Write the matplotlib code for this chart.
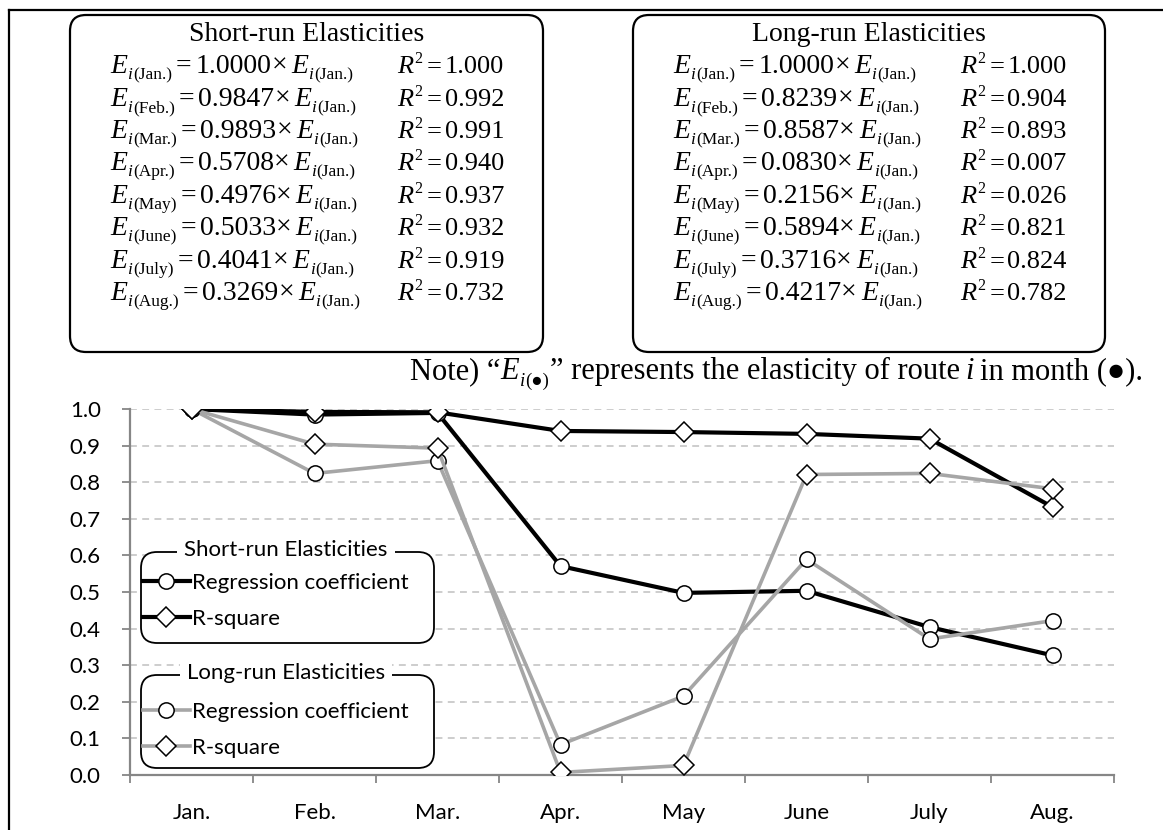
import numpy as np
import matplotlib.pyplot as plt
from matplotlib.patches import FancyBboxPatch
from matplotlib.lines import Line2D

# monthly elasticity regressions (relative to January)
months = ['Jan.', 'Feb.', 'Mar.', 'Apr.', 'May', 'June', 'July', 'Aug.']
short_coef = [1.0000, 0.9847, 0.9893, 0.5708, 0.4976, 0.5033, 0.4041, 0.3269]
short_r2 = [1.000, 0.992, 0.991, 0.940, 0.937, 0.932, 0.919, 0.732]
long_coef = [1.0000, 0.8239, 0.8587, 0.0830, 0.2156, 0.5894, 0.3716, 0.4217]
long_r2 = [1.000, 0.904, 0.893, 0.007, 0.026, 0.821, 0.824, 0.782]
yticks = [0.0, 0.1, 0.2, 0.3, 0.4, 0.5, 0.6, 0.7, 0.8, 0.9, 1.0]

W, H = 1163, 830
fig = plt.figure(figsize=(W / 100, H / 100), dpi=100)
inch = fig.dpi_scale_trans
renderer = fig.canvas.get_renderer()

def px(x, y):
    # pixel position (from top-left) -> inches
    return x / 100, (H - y) / 100

serif = ['Liberation Serif', 'DejaVu Sans']
calibri = 'Lato'

def rich(pieces, x, y, ha='left'):
    # pieces: (text, size, style, dy, gap) -- little run of text pieces on one baseline
    objs = []
    cur = 0
    for s, size, style, dy, gap in pieces:
        cur += gap
        t = fig.text(0, 0, s, transform=inch, family=serif, style=style, fontsize=size,
                     va='baseline', ha='left')
        w = t.get_window_extent(renderer).width
        objs.append((t, cur, dy))
        cur += w
    start = x if ha == 'left' else x - cur
    for t, off, dy in objs:
        t.set_position(px(start + off, y + dy))
    return cur

def e_sub(label, gap=0, size=20, sub=12.5):
    return [('E', size, 'italic', 0, gap), ('i', sub, 'italic', 6, 0.5), ('(' + label + ')', sub, 'normal', 6, 0.5)]

# outer border (top and left only are visible)
fig.add_artist(Line2D([0.09, W / 100], [px(0, 10)[1]] * 2, transform=inch, color='black', lw=1.6))
fig.add_artist(Line2D([0.09, 0.09], [0, px(0, 10)[1]], transform=inch, color='black', lw=1.6))

# ---- equation boxes ----
def eq_box(x0, x1, title, coef, r2):
    bx, by = px(x0, 352)
    fig.add_artist(FancyBboxPatch((bx, by), (x1 - x0) / 100, (352 - 15) / 100,
                                  boxstyle='round,pad=0,rounding_size=0.16',
                                  transform=inch, fc='white', ec='black', lw=1.6))
    tx, ty = px((x0 + x1) / 2, 34)
    fig.text(tx, ty, title, transform=inch, ha='center', va='center', family=serif, fontsize=20)
    rows = [73, 106, 138, 170, 203, 235, 268, 300]
    for k, m in enumerate(months):
        lhs = e_sub(m) + [('=', 20, 'normal', 0, 4), ('%.4f' % coef[k], 20, 'normal', 0, 4),
                          ('\u00d7', 20, 'normal', 0, 0)] + e_sub('Jan.', 4)
        rich(lhs, x0 + 40, rows[k])
        rhs = [('R', 19, 'italic', 0, 0), ('2', 11.5, 'normal', -10, 1.5), ('=', 19, 'normal', 0, 4),
               ('%.3f' % r2[k], 19, 'normal', 0, 3)]
        rich(rhs, x0 + 327, rows[k])

eq_box(70, 543, 'Short-run Elasticities', short_coef, short_r2)
eq_box(633, 1105, 'Long-run Elasticities', long_coef, long_r2)

note = [('Note) \u201c', 22, 'normal', 0, 0), ('E', 22, 'italic', 0, 0), ('i', 13.5, 'italic', 7, 0.5),
        ('(\u25cf)', 13.5, 'normal', 7, 0.5), ('\u201d represents the elasticity of route', 22, 'normal', 0, 0),
        ('i', 22, 'italic', 0, 6), ('in month (\u25cf).', 22, 'normal', 0, 6)]
rich(note, 1143, 379, ha='right')

# ---- chart ----
ax = fig.add_axes([130 / W, 55 / H, 984 / W, 366 / H])
x = np.arange(len(months))
black = '#000000'
gray = '#a6a6a6'
mk = dict(markerfacecolor='white', markeredgecolor='black', markeredgewidth=1.1)
l1, = ax.plot(x, short_coef, color=black, lw=3.0, marker='o', markersize=11, zorder=3, **mk)
l2, = ax.plot(x, short_r2, color=black, lw=3.0, marker='D', markersize=10, zorder=4, **mk)
l3, = ax.plot(x, long_coef, color=gray, lw=2.6, marker='o', markersize=11, zorder=5, **mk)
l4, = ax.plot(x, long_r2, color=gray, lw=2.6, marker='D', markersize=10, zorder=6, **mk)

ax.set_xlim(-0.5, len(months) - 0.5)
ax.set_ylim(0, 1.0)
ax.set_yticks(yticks)
ax.set_yticklabels(['%.1f' % v for v in yticks], family=calibri, fontsize=16)
ax.set_xticks(x)
ax.set_xticklabels(months, family=calibri, fontsize=16)
ax.set_xticks(np.arange(-0.5, len(months)), minor=True)
ax.tick_params(axis='x', which='major', length=0, pad=20)
ax.tick_params(axis='x', which='minor', length=6, color='#868686', width=1.3, direction='out')
ax.tick_params(axis='y', length=6, color='#868686', width=1.3, pad=15)
for s in ['top', 'right']:
    ax.spines[s].set_visible(False)
for s in ['left', 'bottom']:
    ax.spines[s].set_color('#868686')
    ax.spines[s].set_linewidth(1.6)
for v in yticks[1:]:
    ax.axhline(v, color='#c0c0c0', lw=1.1, ls=(0, (4.5, 3.5)), zorder=1)

# legend boxes
def legend_box(y0, y1, title, handles, ymid):
    bx, by = px(141, y1)
    fig.add_artist(FancyBboxPatch((bx, by), (434 - 141) / 100, (y1 - y0) / 100,
                                  boxstyle='round,pad=0,rounding_size=0.16', transform=inch,
                                  fc='white', ec='black', lw=1.3, zorder=8))
    lx, ly = px(143, ymid)
    leg = fig.legend(handles, ['Regression coefficient', 'R-square'], loc='center left',
                     bbox_to_anchor=(lx, ly), bbox_transform=inch, frameon=False,
                     borderpad=0, borderaxespad=0, handlelength=2.1, handletextpad=0.12,
                     labelspacing=0.7, prop={'family': calibri, 'size': 16})
    leg.set_zorder(9)
    tx, ty = px(286, y0 - 2)
    fig.text(tx, ty, title, transform=inch, ha='center', va='center', family=calibri, fontsize=16,
             zorder=10, bbox=dict(fc='white', ec='none', pad=5))

legend_box(552, 643, 'Short-run Elasticities', [l1, l2], 601)
legend_box(675, 768, 'Long-run Elasticities', [l3, l4], 730)

fig.savefig('out.png', dpi=100)
